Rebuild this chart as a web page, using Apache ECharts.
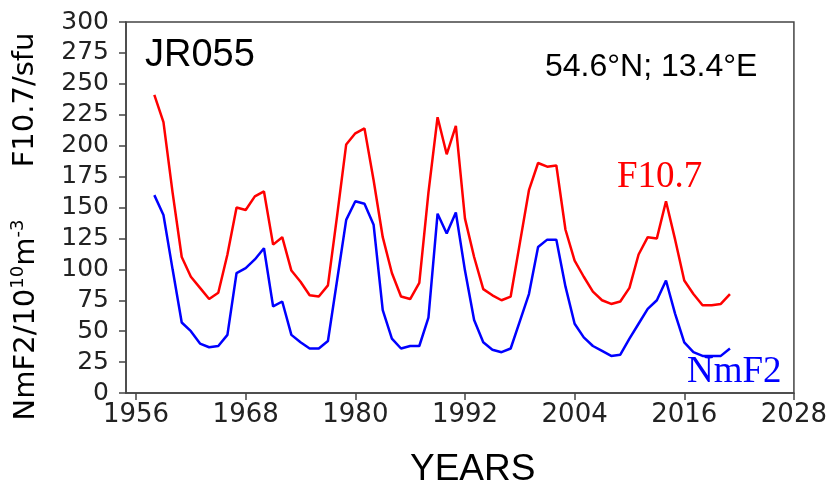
<!DOCTYPE html>
<html>
<head>
<meta charset="utf-8">
<script src="https://cdn.jsdelivr.net/npm/echarts@6/dist/echarts.min.js"></script>
<style>
  html, body { margin: 0; padding: 0; background: #fff; }
  #chart { width: 830px; height: 485px; }
</style>
</head>
<body>
<div id="chart"></div>
<script>
// yearly means
let years = [1958, 1959, 1960, 1961, 1962, 1963, 1964, 1965, 1966, 1967,
  1968, 1969, 1970, 1971, 1972, 1973, 1974, 1975, 1976, 1977,
  1978, 1979, 1980, 1981, 1982, 1983, 1984, 1985, 1986, 1987,
  1988, 1989, 1990, 1991, 1992, 1993, 1994, 1995, 1996, 1997,
  1998, 1999, 2000, 2001, 2002, 2003, 2004, 2005, 2006, 2007,
  2008, 2009, 2010, 2011, 2012, 2013, 2014, 2015, 2016, 2017,
  2018, 2019, 2020, 2021];
let f107 = [241, 219, 162, 110, 94, 85, 76, 81, 112, 150,
  148, 159, 163, 120, 126, 99, 90, 79, 78, 87,
  143, 201, 210, 214, 172, 126, 97, 78, 76, 89,
  162, 223, 193, 216, 141, 110, 84, 79, 75, 78,
  121, 164, 186, 183, 184, 132, 107, 94, 82, 75,
  72, 74, 85, 112, 126, 125, 155, 124, 91, 80,
  71, 71, 72, 80];
let nmf2 = [160, 144, 100, 57, 50, 40, 37, 38, 47, 97,
  101, 108, 117, 70, 74, 47, 41, 36, 36, 42,
  91, 140, 155, 153, 136, 67, 44, 36, 38, 38,
  61, 145, 129, 146, 99, 59, 41, 35, 33, 36,
  58, 80, 118, 124, 124, 86, 56, 45, 38, 34,
  30, 31, 44, 56, 68, 75, 91, 64, 41, 33,
  30, 30, 30, 36];
let xTicks = [1956, 1968, 1980, 1992, 2004, 2016, 2028];

let axisColor = "#444";
let textColor = "#222";

function pairs(vals) {
  return years.map((y, i) => [y, vals[i]]);
}

function line(name, data, color) {
  return {
    name,
    type: 'line',
    data: pairs(data),
    showSymbol: false,
    symbol: 'none',
    lineStyle: {color: color, width: 2.5},
    itemStyle: {color: color},
    animation: false
  }
}

let chart = echarts.init(document.getElementById('chart'));
chart.setOption({
  backgroundColor: '#fff',
  grid: {
    left: 126,
    right: 34,
    top: 22,
    bottom: 92,
    show: true,
    borderColor: axisColor,
    borderWidth: 1.5
  },
  xAxis: {
    type: 'value',
    min: 1954.9,
    max: 2028,
    axisLine: {lineStyle: {color: axisColor, width: 1.5}},
    axisTick: {show: true, length: 7, customValues: xTicks, lineStyle: {color: axisColor, width: 1.5}},
    axisLabel: {
      customValues: xTicks,
      formatter: v => String(v),
      color: textColor,
      fontFamily: 'DejaVu Sans',
      fontSize: 26,
      margin: 9
    },
    splitLine: {show: false}
  },
  yAxis: {
    type: 'value',
    min: 0,
    max: 300,
    interval: 25,
    axisLine: {show: true, lineStyle: {color: axisColor, width: 1.5}},
    axisTick: {show: true, length: 7, lineStyle: {color: axisColor, width: 1.5}},
    axisLabel: {
      color: textColor,
      fontFamily: 'DejaVu Sans',
      fontSize: 25,
      margin: 17
    },
    splitLine: {show: false}
  },
  graphic: [
    {
      type: 'text', left: 145, top: 37,
      style: {text: 'JR055', fill: '#000', font: '38px "Liberation Sans", Arial, sans-serif'}
    },
    {
      type: 'text', left: 545, top: 51,
      style: {text: '54.6°N; 13.4°E', fill: '#000', font: '32px "Liberation Sans", Arial, sans-serif'}
    },
    {
      type: 'text', left: 617, top: 159,
      style: {text: 'F10.7', fill: '#ff0000', font: '37px "Liberation Serif", "Times New Roman", serif'}
    },
    {
      type: 'text', left: 687, top: 354,
      style: {text: 'NmF2', fill: '#0000ff', font: '37px "Liberation Serif", "Times New Roman", serif'}
    },
    {
      type: 'text', left: 410, top: 451,
      style: {text: 'YEARS', fill: '#000', font: '37px "Liberation Sans", Arial, sans-serif'}
    },
    {
      type: 'text', x: 25, y: 100, rotation: Math.PI / 2,
      style: {
        text: 'F10.7/sfu', fill: '#000',
        font: '29px "DejaVu Sans", sans-serif',
        align: 'center', verticalAlign: 'middle'
      }
    },
    {
      type: 'text', x: 26, y: 320, rotation: Math.PI / 2,
      style: {
        text: '{a|NmF2/10}{s|10}{a|m}{s|-3}',
        fill: '#000',
        align: 'center', verticalAlign: 'middle',
        rich: {
          a: {fontFamily: 'DejaVu Sans', fontSize: 29, lineHeight: 34, fill: '#000'},
          s: {fontFamily: 'DejaVu Sans', fontSize: 18, lineHeight: 18, verticalAlign: 'top', fill: '#000'}
        }
      }
    }
  ],
  series: [
    line('F10.7', f107, '#ff0000'),
    line('NmF2', nmf2, '#0000ff')
  ]
});
</script>
</body>
</html>
